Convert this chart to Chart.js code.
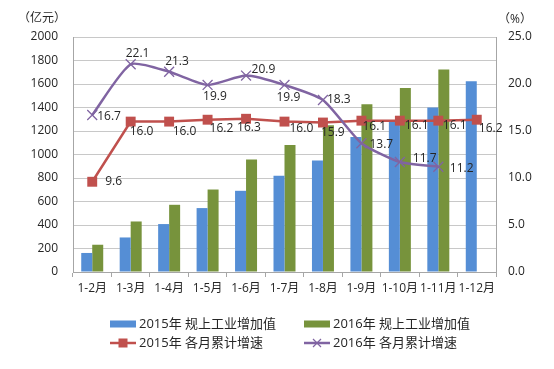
<!DOCTYPE html>
<html>
<head>
<meta charset="utf-8">
<script src="https://cdn.jsdelivr.net/npm/chart.js@4/dist/chart.umd.min.js"></script>
<style>
html,body{margin:0;padding:0;background:#fff;}
#wrap{width:554px;height:369px;}
</style>
</head>
<body>
<div id="wrap"><canvas id="c" width="554" height="369"></canvas></div>
<script>
// ---- data ----
const categories = ['1-2月','1-3月','1-4月','1-5月','1-6月','1-7月','1-8月','1-9月','1-10月','1-11月','1-12月'];
const value2015 = [162, 294, 408, 544, 691, 819, 949, 1148, 1287, 1399, 1624];
const value2016 = [232, 430, 572, 702, 957, 1080, 1250, 1427, 1567, 1724, null];
const growth2015 = [9.6, 16.0, 16.0, 16.2, 16.3, 16.0, 15.9, 16.1, 16.1, 16.1, 16.2];
const growth2016 = [16.7, 22.1, 21.3, 19.9, 20.9, 19.9, 18.3, 13.7, 11.7, 11.2, null];
const leftTicks = [0, 200, 400, 600, 800, 1000, 1200, 1400, 1600, 1800, 2000];
const rightTicks = [0, 5, 10, 15, 20, 25];
const seriesNames = ['2015年 规上工业增加值', '2016年 规上工业增加值', '2015年 各月累计增速', '2016年 各月累计增速'];
const unitLeft = '（亿元）';
const unitRight = '（%）';

// ---- styles ----
const BLUE = '#558ed5', GREEN = '#77933c', RED = '#c0504d', PURPLE = '#8064a2';
const FONT = "'Open Sans','Noto Sans CJK SC',sans-serif";
const TEXT = '#262626';
// label offsets (text left edge dx, vertical center dy) relative to each point
const labelOffset2015 = [[13,0],[-1,9.5],[3.5,10],[2,9],[-9,9],[5,7],[-2,10],[1,5.5],[5,5],[4.5,5],[2,8.5]];
const labelOffset2016 = [[5,2],[-5,-11],[-4,-10],[-4.5,12],[5.5,-6],[-8,13],[4,0],[8,1],[13,-3],[11.5,1.5]];

const labelPlugin = {
  id: 'pointLabels',
  afterDatasetsDraw(chart) {
    const ctx = chart.ctx;
    ctx.save();
    ctx.font = '12px ' + FONT;
    ctx.fillStyle = TEXT;
    ctx.textAlign = 'left';
    ctx.textBaseline = 'middle';
    [[2, labelOffset2015], [3, labelOffset2016]].forEach(([di, offs]) => {
      const ds = chart.data.datasets[di];
      const meta = chart.getDatasetMeta(di);
      ds.data.forEach((v, i) => {
        if (v === null || v === undefined) return;
        const p = meta.data[i];
        const o = offs[i] || [4, 0];
        ctx.fillText(v.toFixed(1), p.x + o[0], p.y + o[1]);
      });
    });
    ctx.restore();
  }
};

const decorPlugin = {
  id: 'decor',
  afterDraw(chart) {
    const ctx = chart.ctx;
    ctx.save();
    ctx.font = '12px ' + FONT;
    ctx.fillStyle = TEXT;
    ctx.textBaseline = 'middle';
    ctx.textAlign = 'center';
    ctx.fillText(unitLeft, 42, 19);
    ctx.fillText(unitRight, 515, 20);

    // legend
    ctx.font = '13px ' + FONT;
    ctx.textAlign = 'left';
    const cols = [110, 304];
    const rows = [324, 343];
    const ds = chart.data.datasets;
    const items = [
      {ds: ds[0], c: 0, r: 0, type: 'bar'},
      {ds: ds[1], c: 1, r: 0, type: 'bar'},
      {ds: ds[2], c: 0, r: 1, type: 'line'},
      {ds: ds[3], c: 1, r: 1, type: 'line'}
    ];
    items.forEach(it => {
      const x = cols[it.c], y = rows[it.r], w = 26;
      if (it.type === 'bar') {
        ctx.fillStyle = it.ds.backgroundColor;
        ctx.fillRect(x, y - 3.5, w, 7);
      } else {
        ctx.strokeStyle = it.ds.borderColor;
        ctx.lineWidth = 2.5;
        ctx.beginPath(); ctx.moveTo(x, y); ctx.lineTo(x + w, y); ctx.stroke();
        if (it.ds.pointStyle === 'rect') {
          ctx.fillStyle = it.ds.pointBackgroundColor;
          ctx.fillRect(x + w/2 - 4.5, y - 4.5, 9, 9);
        } else {
          ctx.lineWidth = 1.2;
          ctx.beginPath();
          ctx.moveTo(x + w/2 - 4, y - 4); ctx.lineTo(x + w/2 + 4, y + 4);
          ctx.moveTo(x + w/2 + 4, y - 4); ctx.lineTo(x + w/2 - 4, y + 4);
          ctx.stroke();
        }
      }
      ctx.fillStyle = TEXT;
      ctx.fillText(it.ds.label, x + w + 3, y + 0.5);
    });
    ctx.restore();
  }
};

new Chart(document.getElementById('c'), {
  data: {
    labels: categories,
    datasets: [
      {type: 'bar', label: seriesNames[0], data: value2015, backgroundColor: BLUE, yAxisID: 'y', order: 2,
       categoryPercentage: 0.572, barPercentage: 1.0},
      {type: 'bar', label: seriesNames[1], data: value2016, backgroundColor: GREEN, yAxisID: 'y', order: 2,
       categoryPercentage: 0.572, barPercentage: 1.0},
      {type: 'line', label: seriesNames[2], data: growth2015, borderColor: RED, borderWidth: 2.5,
       pointStyle: 'rect', pointRadius: 7, pointBackgroundColor: RED, pointBorderColor: RED, pointBorderWidth: 0,
       yAxisID: 'y1', order: 1, tension: 0},
      {type: 'line', label: seriesNames[3], data: growth2016, borderColor: PURPLE, borderWidth: 2.5,
       pointStyle: 'crossRot', pointRadius: 7, pointBorderColor: PURPLE, pointBorderWidth: 1.3,
       pointBackgroundColor: PURPLE, yAxisID: 'y1', order: 0, tension: 0.2, spanGaps: false}
    ]
  },
  options: {
    responsive: false,
    animation: false,
    devicePixelRatio: 1,
    layout: {padding: {top: 37, left: 0, right: 0, bottom: 0}},
    plugins: {legend: {display: false}, tooltip: {enabled: false}},
    scales: {
      x: {
        offset: true,
        grid: {display: true, drawOnChartArea: false, drawTicks: true, tickLength: 5, color: '#a6a6a6', offset: true},
        border: {display: true, color: '#a6a6a6'},
        ticks: {font: {size: 12, family: FONT}, color: TEXT, padding: 4, maxRotation: 0, autoSkip: false},
        afterFit: s => { s.height = 97; }
      },
      y: {
        position: 'left', min: 0, max: 2000,
        afterBuildTicks: s => { s.ticks = leftTicks.map(v => ({value: v})); },
        grid: {color: '#c8c8c8', drawTicks: false, lineWidth: 1},
        border: {display: true, color: '#a6a6a6'},
        ticks: {font: {size: 12, family: FONT}, color: TEXT, padding: 15, callback: v => String(v)},
        afterFit: s => { s.width = 73; }
      },
      y1: {
        position: 'right', min: 0, max: 25,
        afterBuildTicks: s => { s.ticks = rightTicks.map(v => ({value: v})); },
        grid: {drawOnChartArea: false, drawTicks: false},
        border: {display: true, color: '#a6a6a6'},
        ticks: {font: {size: 12, family: FONT}, color: TEXT, padding: 12, callback: v => Number(v).toFixed(1)},
        afterFit: s => { s.width = 58; }
      }
    }
  },
  plugins: [labelPlugin, decorPlugin]
});
</script>
</body>
</html>
